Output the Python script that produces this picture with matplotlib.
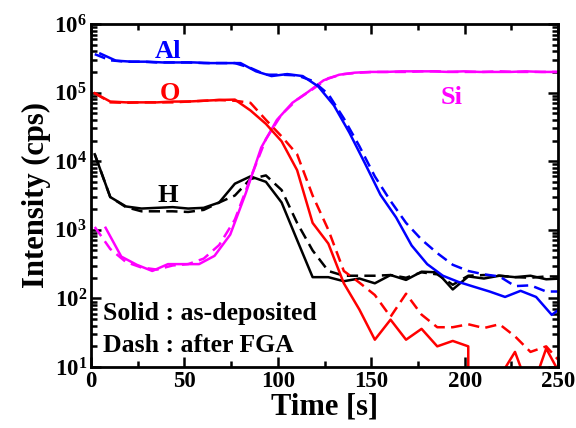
import matplotlib
matplotlib.use("Agg")
import matplotlib.pyplot as plt
import numpy as np
from matplotlib.ticker import MultipleLocator, LogLocator, NullFormatter

plt.rcParams['font.family'] = 'Liberation Serif'
plt.rcParams['font.weight'] = 'bold'
plt.rcParams['axes.labelweight'] = 'bold'
plt.rcParams['mathtext.fontset'] = 'custom'
plt.rcParams['mathtext.rm'] = 'Liberation Serif:bold'
plt.rcParams['mathtext.it'] = 'Liberation Serif:bold'
plt.rcParams['mathtext.bf'] = 'Liberation Serif:bold'
plt.rcParams['mathtext.default'] = 'rm'

###############################################################################################
# SIMS depth profile, one sample every ~8.3 s

time_s = [2.0, 10.3, 18.7, 27.0, 35.3, 43.7, 52.0, 60.3, 68.6, 77.0, 85.3, 93.6, 102.0,
          110.3, 118.6, 127.0, 135.3, 143.6, 151.9, 160.3, 168.6, 176.9, 185.3, 193.6,
          201.9, 210.3, 218.6, 226.9, 235.2, 243.6, 251.9]

# per-species acquisition offset inside a cycle [s]
t_shift_solid = {"Al": 3.0, "O": 0.0, "Si": -2.5, "H": 0.0}
t_shift_dash = {"Al": 0.0, "O": 0.0, "Si": 0.0, "H": 0.0}

# as-deposited (solid)
al_solid = [3.7e5, 2.92e5, 2.82e5, 2.82e5, 2.75e5, 2.75e5, 2.75e5, 2.69e5, 2.69e5, 2.69e5,
            2.04e5, 1.74e5, 1.86e5, 1.74e5, 1.23e5, 6.5e4, 2.6e4, 9300, 3240, 1510, 590,
            316, 214, 174, 148, 126, 105, 129, 105, 57.5, 85]
o_solid = [9.8e4, 7.4e4, 7.2e4, 7.2e4, 7.2e4, 7.4e4, 7.4e4, 7.6e4, 7.8e4, 7.9e4, 5.5e4,
           3.5e4, 1.95e4, 7400, 1260, 630, 166, 69, 25, 49, 25, 36, 20, 24, 20, 0, 7.1,
           16.6, 4.1, 18.6, 7.1]
si_solid = [np.nan, 1070, 407, 309, 251, 316, 316, 316, 417, 850, 3400, 1.58e4, 4.0e4,
            7.1e4, 1.02e5, 1.51e5, 1.82e5, 1.95e5, 2.0e5, 2.0e5, 2.04e5, 2.04e5, 2.04e5,
            2.0e5, 2.04e5, 2.0e5, 2.0e5, 2.0e5, 2.04e5, 2.0e5, 2.0e5]
h_solid = [1.26e4, 3000, 2190, 2040, 2090, 2140, 2040, 2090, 2500, 4700, 6000, 5000, 2500,
           710, 204, 204, 178, 195, 166, 219, 186, 245, 240, 135, 209, 195, 214, 204, 214,
           190, 195]

# after FGA (dash)
al_dash = [3.63e5, 2.95e5, 2.82e5, 2.82e5, 2.75e5, 2.75e5, 2.75e5, 2.69e5, 2.69e5, 2.69e5,
           2.29e5, 1.82e5, 1.82e5, 1.78e5, 1.48e5, 9.5e4, 4.2e4, 1.66e4, 6000, 2630, 1260,
           720, 457, 309, 251, 224, 209, 151, 155, 126, 126]
o_dash = [9.8e4, 7.2e4, 7.1e4, 7.2e4, 7.2e4, 7.2e4, 7.4e4, 7.6e4, 7.8e4, 7.6e4, 7.1e4,
          4.0e4, 2.3e4, 1.26e4, 3160, 1000, 251, 170, 112, 54, 117, 58, 38, 38, 42, 37, 42,
          28, 16.6, 20, 11.2]
si_dash = [1100, 525, 339, 282, 263, 302, 316, 380, 600, 1410, 5600, 2.1e4, 4.8e4, 7.9e4,
           1.12e5, 1.62e5, 1.86e5, 1.95e5, 2.0e5, 2.0e5, 2.0e5, 2.04e5, 2.04e5, 2.0e5,
           2.0e5, 2.0e5, 2.04e5, 2.0e5, 2.0e5, 2.0e5, 2.0e5]
h_dash = [1.26e4, 3000, 2140, 1860, 1860, 1860, 1820, 1950, 2500, 3160, 5500, 6200, 3800,
          1260, 500, 251, 214, 214, 214, 219, 200, 240, 224, 158, 214, 219, 214, 204, 200,
          209, 209]

colors = {"Al": "#0000ff", "O": "#ff0000", "Si": "#ff00ff", "H": "#000000"}
solid = {"Al": al_solid, "O": o_solid, "Si": si_solid, "H": h_solid}
dash = {"Al": al_dash, "O": o_dash, "Si": si_dash, "H": h_dash}

###############################################################################################

fig = plt.figure(figsize=(5.76, 4.28), dpi=100)
ax = fig.add_axes([0.158, 0.1425, 0.811, 0.8015])
ax.set_yscale('log', nonpositive='clip')

t = np.array(time_s)
for sp in ["H", "Si", "O", "Al"]:
    ax.plot(t + t_shift_dash[sp], dash[sp], color=colors[sp], lw=1.8,
            linestyle=(0, (4.5, 2.5)))
    ax.plot(t + t_shift_solid[sp], solid[sp], color=colors[sp], lw=1.8)

# species labels
ax.text(41, 10**5.50, "Al", color=colors["Al"], fontsize=19, ha='center', va='baseline')
ax.text(42, 10**4.89, "O", color=colors["O"], fontsize=19, ha='center', va='baseline')
ax.text(193, 10**4.84, "Si", color=colors["Si"], fontsize=19, ha='center', va='baseline')
ax.text(41, 10**3.40, "H", color=colors["H"], fontsize=19, ha='center', va='baseline')
ax.text(0.026, 0.137, "Solid : as-deposited", transform=ax.transAxes, fontsize=18.5,
        va='baseline')
ax.text(0.026, 0.045, "Dash : after FGA", transform=ax.transAxes, fontsize=18.5,
        va='baseline')

# axis borders
ax.set_xlim(0, 250)
ax.set_ylim(10, 1e6)
ax.xaxis.set_major_locator(MultipleLocator(50))
ax.xaxis.set_minor_locator(MultipleLocator(25))
ax.yaxis.set_major_locator(LogLocator(base=10))
ax.yaxis.set_minor_locator(LogLocator(base=10, subs=np.arange(2, 10)))
ax.yaxis.set_minor_formatter(NullFormatter())
ax.tick_params(which='both', direction='in', top=True, right=True, width=1.8,
               labelsize=16.5, pad=3)
ax.tick_params(which='major', length=7)
ax.tick_params(which='minor', length=4)
for s in ax.spines.values():
    s.set_linewidth(2)

ax.set_xlabel("Time [s]", fontsize=22, fontweight='bold', labelpad=0)
ax.set_ylabel("Intensity (cps)", fontsize=22, fontweight='bold', labelpad=2)

fig.savefig("out.png", dpi=100)
